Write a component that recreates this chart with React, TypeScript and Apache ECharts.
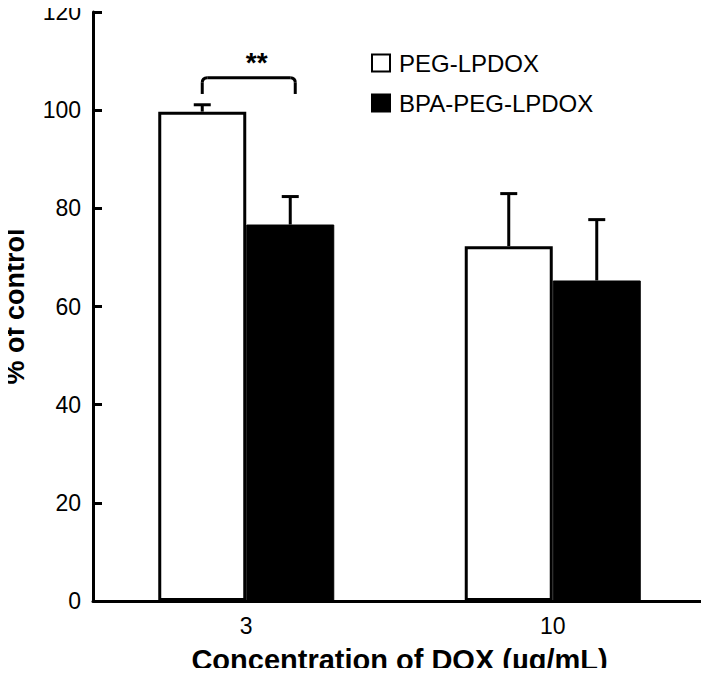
import React, { useEffect, useRef } from "react";
import * as echarts from "echarts";

const categories = ["3", "10"];
const seriesNames = ["PEG-LPDOX", "BPA-PEG-LPDOX"];
const pegValues = [99.7, 72.3];
const pegErrors = [1.4, 10.7];
const bpaValues = [76.7, 65.3];
const bpaErrors = [5.7, 12.4];
// significance bracket: [category index, bracket top, bracket leg bottom, label]
const significance = [[0, 106.6, 103.3, "**"]];

const FONT = "'Liberation Sans', Arial, Helvetica, sans-serif";

export default function App() {
  const ref = useRef<HTMLDivElement>(null);

  useEffect(() => {
    if (!ref.current) return;
    const chart = echarts.init(ref.current, undefined, { renderer: "svg" });
    const barWidth = 88;

    const errSeries = (values: number[], errors: number[], offset: number) => ({
      type: "custom",
      z: 5,
      silent: true,
      renderItem: (params: any, api: any) => {
        const i = api.value(0);
        const base = api.coord([i, api.value(1)]);
        const top = api.coord([i, api.value(1) + api.value(2)]);
        const x = base[0] + offset;
        const cap = 8.5;
        const style = { stroke: "#000", lineWidth: 3, fill: "none" };
        return {
          type: "group",
          children: [
            { type: "line", shape: { x1: x, y1: base[1], x2: x, y2: top[1] }, style },
            { type: "line", shape: { x1: x - cap, y1: top[1], x2: x + cap, y2: top[1] }, style },
          ],
        };
      },
      data: values.map((v, i) => [i, v, errors[i]]),
    });

    chart.setOption({
      animation: false,
      backgroundColor: "#fff",
      grid: { left: 93, right: 3, top: 12, bottom: 75, containLabel: false, outerBoundsMode: "none" },
      legend: {
        orient: "vertical",
        left: 366,
        top: 46,
        itemWidth: 18,
        itemHeight: 17,
        itemGap: 16,
        icon: "rect",
        data: seriesNames,
        textStyle: { fontFamily: FONT, fontSize: 24, color: "#000", padding: [0, 0, 0, 4] },
        selectedMode: false,
      },
      xAxis: {
        type: "category",
        data: categories,
        axisLine: { lineStyle: { color: "#000", width: 3 } },
        axisTick: { show: false },
        axisLabel: { fontFamily: FONT, fontSize: 23, color: "#000", margin: 13 },
        name: "Concentration of DOX (µg/mL)",
        nameLocation: "middle",
        nameGap: 44,
        nameTextStyle: { fontFamily: FONT, fontSize: 29, fontWeight: "bold", color: "#000", lineHeight: 30 },
      },
      yAxis: {
        type: "value",
        min: 0,
        max: 120,
        interval: 20,
        splitLine: { show: false },
        axisLine: { show: true, lineStyle: { color: "#000", width: 3 } },
        axisTick: { show: true, inside: true, length: 9, lineStyle: { color: "#000", width: 3 } },
        axisLabel: { fontFamily: FONT, fontSize: 23, color: "#000", margin: 12, lineHeight: 20 },
        name: "% of control",
        nameLocation: "middle",
        nameRotate: 90,
        nameGap: 64,
        nameTextStyle: { fontFamily: FONT, fontSize: 27, fontWeight: "bold", color: "#000", lineHeight: 28 },
      },
      series: [
        {
          name: seriesNames[0],
          type: "bar",
          data: pegValues,
          barWidth,
          barGap: "0%",
          itemStyle: { color: "#fff", borderColor: "#000", borderWidth: 3 },
        },
        {
          name: seriesNames[1],
          type: "bar",
          data: bpaValues,
          barWidth,
          barGap: "0%",
          itemStyle: { color: "#000", borderColor: "#000", borderWidth: 1 },
        },
        errSeries(pegValues, pegErrors, -barWidth / 2),
        errSeries(bpaValues, bpaErrors, barWidth / 2),
        {
          type: "custom",
          z: 6,
          silent: true,
          renderItem: (params: any, api: any) => {
            const i = api.value(0);
            const top = api.coord([i, api.value(1)]);
            const bottom = api.coord([i, api.value(2)]);
            const x1 = top[0] - 44;
            const x2 = top[0] + 49;
            const r = 5;
            const style = { stroke: "#000", lineWidth: 3, fill: "none", lineJoin: "round" };
            return {
              type: "group",
              children: [
                { type: "line", shape: { x1: x1, y1: bottom[1], x2: x1, y2: top[1] + r }, style },
                { type: "bezierCurve", shape: { x1: x1, y1: top[1] + r, x2: x1 + r, y2: top[1], cpx1: x1, cpy1: top[1] }, style },
                { type: "line", shape: { x1: x1 + r, y1: top[1], x2: x2 - r, y2: top[1] }, style },
                { type: "bezierCurve", shape: { x1: x2 - r, y1: top[1], x2: x2, y2: top[1] + r, cpx1: x2, cpy1: top[1] }, style },
                { type: "line", shape: { x1: x2, y1: top[1] + r, x2: x2, y2: bottom[1] }, style },
                {
                  type: "text",
                  style: {
                    x: (x1 + x2) / 2 + 8,
                    y: top[1] - 1,
                    text: significance[params.dataIndex][3] as string,
                    fontFamily: FONT,
                    fontSize: 28,
                    fontWeight: "bold",
                    fill: "#000",
                    align: "center",
                    verticalAlign: "bottom",
                  },
                },
              ],
            };
          },
          data: significance.map((s) => [s[0], s[1], s[2]]),
        },
      ],
    });

    return () => chart.dispose();
  }, []);

  return <div ref={ref} style={{ width: 709, height: 676, margin: -8 }} />;
}
